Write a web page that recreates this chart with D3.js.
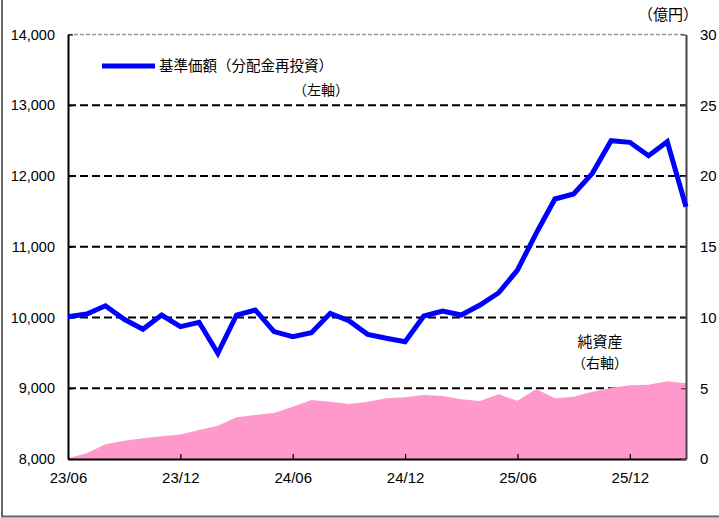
<!DOCTYPE html>
<html><head><meta charset="utf-8">
<script src="https://cdn.jsdelivr.net/npm/d3@7"></script>
<style>
html,body{margin:0;padding:0;background:#fff;}
svg{display:block;}
text{font-family:"Liberation Sans",Arial,sans-serif;}
.jp{font-family:"Noto Sans CJK JP",sans-serif;}
</style></head><body>
<svg id="chart" width="719" height="518"></svg>
<script>
const months = ["23/06","23/07","23/08","23/09","23/10","23/11","23/12","24/01","24/02","24/03","24/04","24/05","24/06","24/07","24/08","24/09","24/10","24/11","24/12","25/01","25/02","25/03","25/04","25/05","25/06","25/07","25/08","25/09","25/10","25/11","25/12","26/01","26/02","26/03"];
const navValues = [10010,10050,10165,9975,9835,10035,9870,9932,9494,10035,10106,9800,9730,9785,10059,9955,9762,9706,9658,10021,10092,10035,10177,10350,10671,11190,11675,11746,12038,12499,12476,12287,12485,11566];
const assetValues = [0.05,0.4,1.04,1.29,1.46,1.6,1.74,2.05,2.35,2.95,3.11,3.25,3.7,4.17,4.05,3.89,4.05,4.29,4.36,4.52,4.45,4.22,4.1,4.57,4.12,4.95,4.29,4.4,4.75,5.04,5.21,5.25,5.49,5.35];
const xTickLabels = ["23/06","23/12","24/06","24/12","25/06","25/12"];
const leftTicks = [8000,9000,10000,11000,12000,13000,14000];
const rightTicks = [0,5,10,15,20,25,30];
const gridValues = [9000,10000,11000,12000,13000];

const svg = d3.select("#chart");
const L = 68, R = 686, T = 34.5, B = 459;

const x = d3.scaleLinear().domain([0, months.length - 1]).range([L, R]);
const yL = d3.scaleLinear().domain([8000, 14000]).range([B, T]);
const yR = d3.scaleLinear().domain([0, 30]).range([B, T]);

// outer frame (left & bottom)
svg.append("line").attr("x1",2).attr("x2",2).attr("y1",0).attr("y2",517).attr("stroke","#666").attr("stroke-width",2);
svg.append("line").attr("x1",1).attr("x2",719).attr("y1",516.5).attr("y2",516.5).attr("stroke","#666").attr("stroke-width",2);

// top plot border (gray dashed)
svg.append("line").attr("x1",L).attr("x2",R).attr("y1",T).attr("y2",T)
  .attr("stroke","#999").attr("stroke-width",1.5).attr("stroke-dasharray","4,2");

// gridlines
svg.append("g").selectAll("line").data(gridValues).join("line")
  .attr("x1",L).attr("x2",R).attr("y1",d=>yL(d)).attr("y2",d=>yL(d))
  .attr("stroke","#000").attr("stroke-width",2.2).attr("stroke-dasharray","8,4");

// area (net assets, right axis)
const area = d3.area().x((d,i)=>x(i)).y0(yR(0)).y1(d=>yR(d));
svg.append("path").datum(assetValues).attr("d",area).attr("fill","#FF99CC");

// axes
const xTickIdx = xTickLabels.map(l => months.indexOf(l));
const gx = svg.append("g").attr("transform",`translate(0,${B})`)
  .call(d3.axisBottom(x).tickValues(xTickIdx).tickFormat(i=>months[i]).tickSizeInner(-5).tickSizeOuter(0).tickPadding(13));
gx.select(".domain").attr("stroke","#000").attr("stroke-width",2);
gx.selectAll(".tick line").attr("stroke","#000").attr("stroke-width",1.2);
gx.selectAll("text").attr("font-size",15).attr("fill","#000");

const gl = svg.append("g").attr("transform",`translate(${L},0)`)
  .call(d3.axisLeft(yL).tickValues(leftTicks).tickFormat(d3.format(",")).tickSizeInner(-5).tickSizeOuter(0).tickPadding(13));
gl.select(".domain").attr("stroke","#000").attr("stroke-width",2);
gl.selectAll(".tick line").attr("stroke","#000").attr("stroke-width",1.2);
gl.selectAll("text").attr("font-size",14.5).attr("fill","#000");

const gr = svg.append("g").attr("transform",`translate(${R},0)`)
  .call(d3.axisRight(yR).tickValues(rightTicks).tickSizeInner(-5).tickSizeOuter(0).tickPadding(14));
gr.select(".domain").attr("stroke","#444").attr("stroke-width",2);
gr.selectAll(".tick line").attr("stroke","#444").attr("stroke-width",1.2);
gr.selectAll("text").attr("font-size",15).attr("fill","#000");

// NAV line
const line = d3.line().x((d,i)=>x(i)).y(d=>yL(d));
svg.append("path").datum(navValues).attr("d",line).attr("fill","none")
  .attr("stroke","#0000FF").attr("stroke-width",5).attr("stroke-linejoin","miter");

// texts
svg.append("text").attr("class","jp").attr("x",668).attr("y",15).attr("dy","0.35em")
  .attr("text-anchor","middle").attr("font-size",15).text("（億円）");

svg.append("line").attr("x1",102).attr("x2",155).attr("y1",66).attr("y2",66)
  .attr("stroke","#0000FF").attr("stroke-width",5);
svg.append("text").attr("class","jp").attr("x",159).attr("y",66).attr("dy","0.35em")
  .attr("font-size",14.5).text("基準価額（分配金再投資）");
svg.append("text").attr("class","jp").attr("x",321).attr("y",90).attr("dy","0.35em")
  .attr("text-anchor","middle").attr("font-size",14).text("（左軸）");

svg.append("text").attr("class","jp").attr("x",600).attr("y",342).attr("dy","0.35em")
  .attr("text-anchor","middle").attr("font-size",15).text("純資産");
svg.append("text").attr("class","jp").attr("x",600).attr("y",363).attr("dy","0.35em")
  .attr("text-anchor","middle").attr("font-size",14).text("（右軸）");
</script>
</body></html>
